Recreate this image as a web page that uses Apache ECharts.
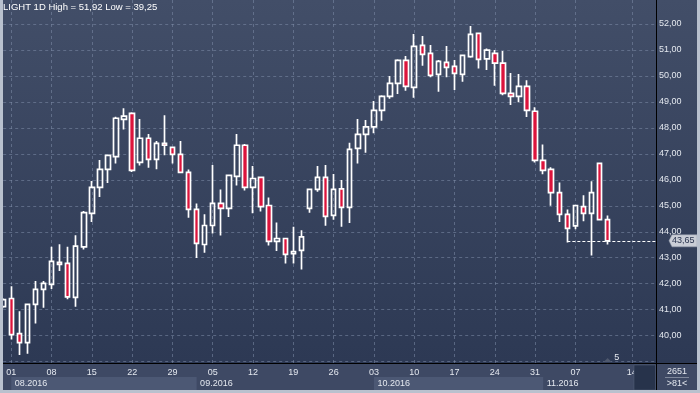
<!DOCTYPE html>
<html><head><meta charset="utf-8">
<script src="https://cdn.jsdelivr.net/npm/echarts@6/dist/echarts.min.js"></script>
<style>html,body{margin:0;padding:0;background:#2e3b56;}#c{width:700px;height:393px;}</style>
</head><body><div id="c"></div>
<script>
const dates = [
'2016-07-29',
'2016-08-01','2016-08-02','2016-08-03','2016-08-04','2016-08-05',
'2016-08-08','2016-08-09','2016-08-10','2016-08-11','2016-08-12',
'2016-08-15','2016-08-16','2016-08-17','2016-08-18','2016-08-19',
'2016-08-22','2016-08-23','2016-08-24','2016-08-25','2016-08-26',
'2016-08-29','2016-08-30','2016-08-31','2016-09-01','2016-09-02',
'2016-09-05','2016-09-06','2016-09-07','2016-09-08','2016-09-09',
'2016-09-12','2016-09-13','2016-09-14','2016-09-15','2016-09-16',
'2016-09-19','2016-09-20','2016-09-21','2016-09-22','2016-09-23',
'2016-09-26','2016-09-27','2016-09-28','2016-09-29','2016-09-30',
'2016-10-03','2016-10-04','2016-10-05','2016-10-06','2016-10-07',
'2016-10-10','2016-10-11','2016-10-12','2016-10-13','2016-10-14',
'2016-10-17','2016-10-18','2016-10-19','2016-10-20','2016-10-21',
'2016-10-24','2016-10-25','2016-10-26','2016-10-27','2016-10-28',
'2016-10-31','2016-11-01','2016-11-02','2016-11-03','2016-11-04',
'2016-11-07','2016-11-08','2016-11-09','2016-11-10','2016-11-11',
'2016-11-12','2016-11-13','2016-11-14','2016-11-15','2016-11-16','2016-11-17'
];
const opens = [41.12,41.43,40.08,39.73,41.20,41.78,41.97,42.82,42.78,41.47,
43.42,44.71,45.71,46.40,46.89,48.33,48.56,46.67,47.60,46.79,
47.40,47.25,46.98,46.29,44.86,43.51,44.24,45.09,44.90,46.13,
47.33,45.71,46.09,45.01,43.63,43.74,43.16,43.28,44.90,45.63,
46.09,44.63,45.65,44.94,47.21,47.75,48.04,48.67,49.21,49.71,
50.60,49.56,51.18,50.87,50.06,50.52,50.37,50.06,50.74,51.64,
50.66,50.87,50.49,49.33,49.21,49.60,48.64,46.75,46.40,45.51,
44.67,44.23,44.97,44.71,46.63,44.47];
const closes = [41.39,40.04,39.73,41.20,41.78,42.01,42.86,42.74,41.49,43.45,
44.74,45.71,46.40,46.94,48.37,48.45,46.36,47.60,46.79,47.40,
47.33,46.98,46.29,44.86,43.55,44.24,45.09,44.90,46.17,47.33,
45.71,46.05,44.97,43.63,43.74,43.13,43.24,43.80,45.63,46.09,
44.59,45.63,44.94,47.17,47.75,48.04,48.67,49.21,49.71,50.60,
49.60,51.14,50.83,50.02,50.56,50.33,50.10,50.79,51.60,50.64,
50.99,50.49,49.33,49.21,49.60,48.67,46.75,46.36,45.51,44.67,
44.13,45.01,44.71,45.51,44.47,43.65];
const lows = [41.05,39.85,39.25,39.30,40.47,41.07,41.80,42.49,41.40,41.11,
43.32,44.38,45.34,45.88,46.63,47.94,46.30,46.55,46.46,46.41,
46.95,46.63,46.25,44.54,42.99,43.19,43.93,43.86,44.57,45.78,
45.59,44.71,44.78,43.47,43.26,42.78,42.78,42.55,44.73,45.54,
44.23,44.46,44.19,44.34,46.63,47.04,47.79,48.27,49.12,49.30,
49.43,49.16,50.39,49.95,49.39,49.95,49.46,49.78,50.70,50.29,
50.23,49.62,49.26,48.88,48.99,48.42,46.67,46.21,45.00,44.38,
43.59,44.10,44.40,43.09,44.45,43.51];
const highs = [41.45,41.90,40.94,41.22,42.10,42.10,43.42,43.52,43.42,43.87,
44.80,45.95,46.76,46.96,48.43,48.76,48.60,48.34,47.76,47.49,
48.49,47.27,47.49,46.40,45.09,44.67,46.57,45.63,46.20,47.76,
47.38,46.53,46.12,45.32,44.36,43.76,44.19,44.06,45.67,46.53,
46.57,46.22,45.99,47.43,48.34,48.30,49.03,49.26,50.00,50.64,
50.77,51.61,51.54,51.19,50.61,51.15,50.61,50.82,51.92,51.66,
51.06,51.00,50.96,50.11,50.07,49.83,48.79,47.36,46.48,45.90,
44.86,45.03,45.41,45.94,46.65,44.63];
const weekTicks = ['2016-08-01','2016-08-08','2016-08-15','2016-08-22','2016-08-29',
'2016-09-05','2016-09-12','2016-09-19','2016-09-26',
'2016-10-03','2016-10-10','2016-10-17','2016-10-24','2016-10-31',
'2016-11-07','2016-11-14'];
const monthStarts = ['2016-08-01','2016-09-01','2016-10-03','2016-11-01'];
const monthEnds = ['2016-09-01','2016-10-03','2016-11-01','2016-11-17'];
const monthLabels = ['08.2016','09.2016','10.2016','11.2016'];
const monthShaded = [true,false,true,false];
const titleText = 'LIGHT 1D High = 51,92 Low = 39,25';
const lastPrice = 43.65;
const lastLineStart = '2016-11-04';
const eventDate = '2016-11-11';
const eventLabel = '5';
const footerTop = '2651';
const footerBottom = '>81<';

const FONT = "'Liberation Sans', Arial, sans-serif";
const grid = {left: 3.2, right: 44, top: 0, bottom: 30};
const yMax = 52.924, yMin = 38.946;
const isTick = (i, v) => weekTicks.indexOf(v) >= 0;
const gridLine = {show: true, lineStyle: {color: 'rgba(125,140,168,0.55)', type: [3, 3], width: 1}};

const chart = echarts.init(document.getElementById('c'));
const option = {
  animation: false,
  backgroundColor: new echarts.graphic.LinearGradient(0, 0, 0, 1, [
    {offset: 0, color: '#424e68'}, {offset: 0.92, color: '#2d3954'}, {offset: 1, color: '#2d3954'}]),
  title: {text: titleText, left: 3, top: 2, padding: 0,
    textStyle: {color: '#ffffff', fontSize: 9.5, fontWeight: 'normal', fontFamily: FONT}},
  grid: grid,
  xAxis: {
    type: 'category', data: dates, boundaryGap: false,
    axisLine: {show: true, lineStyle: {color: '#000000', width: 1}},
    axisTick: {show: false, interval: isTick},
    axisLabel: {interval: isTick, formatter: v => v.slice(8), color: '#e4e8ef', fontSize: 9, fontFamily: FONT, margin: 5},
    splitLine: Object.assign({interval: isTick}, gridLine)
  },
  yAxis: {
    type: 'value', position: 'right', min: yMin, max: yMax, splitNumber: 14, scale: true,
    axisLine: {show: true, lineStyle: {color: '#000000', width: 1}},
    axisTick: {show: false},
    axisLabel: {color: '#e4e8ef', fontSize: 9, fontFamily: FONT, margin: 3,
      formatter: v => (Math.abs(v - Math.round(v)) < 1e-6 && v >= 39.5) ? v.toFixed(2).replace('.', ',') : ''},
    splitLine: Object.assign({showMinLine: false, showMaxLine: false}, gridLine)
  },
  series: [{
    type: 'candlestick',
    data: opens.map((o, i) => [o, closes[i], lows[i], highs[i]]),
    barWidth: 5,
    clip: true,
    itemStyle: {color: 'rgba(0,0,0,0)', color0: '#dc143c', borderColor: '#ffffff', borderColor0: '#ffffff', borderColorDoji: '#ffffff', borderWidth: 1.7},
    markLine: {
      silent: true, symbol: 'none', animation: false,
      label: {show: false},
      lineStyle: {color: '#ffffff', type: [3, 2], width: 1},
      data: [[{coord: [lastLineStart, lastPrice]}, {coord: [dates[dates.length - 1], lastPrice]}]]
    }
  }]
};
chart.setOption(option);

const px = d => chart.convertToPixel({xAxisIndex: 0}, d);
const py = v => chart.convertToPixel({yAxisIndex: 0}, v);
const axisY = py(yMin);
const plotRight = px(dates[dates.length - 1]);
const g = [];
g.push({type: 'rect', z: -1, shape: {x: 0, y: axisY, width: 700, height: 393 - axisY}, style: {fill: '#3e4964'}, silent: true});
monthStarts.forEach((m, i) => {
  const x0 = px(m), x1 = px(monthEnds[i]);
  if (monthShaded[i]) {
    g.push({type: 'rect', z: -1, z2: 5, shape: {x: x0, y: axisY + 14, width: x1 - x0, height: 13}, style: {fill: '#4c5874'}, silent: true});
  }
  g.push({type: 'text', z: 5, x: x0 + 3.5, y: axisY + 20.5, style: {text: monthLabels[i], fill: '#e4e8ef', font: '9px ' + FONT, verticalAlign: 'middle'}, silent: true});
});
g.push({type: 'line', z: 6, shape: {x1: 0, y1: axisY + 0.5, x2: 700, y2: axisY + 0.5}, style: {stroke: '#000000', lineWidth: 1}, silent: true});
g.push({type: 'line', z: 6, shape: {x1: plotRight + 0.5, y1: 0, x2: plotRight + 0.5, y2: 393}, style: {stroke: '#000000', lineWidth: 1}, silent: true});
g.push({type: 'rect', z: 7, shape: {x: plotRight - 22, y: axisY + 2, width: 21.5, height: 25}, style: {fill: '#27334b', stroke: '#56627b', lineWidth: 0.5}, silent: true});
const ex = px(eventDate);
g.push({type: 'polygon', z: 7, shape: {points: [[ex - 4, axisY - 1], [ex + 4, axisY - 1], [ex, axisY - 5]]}, style: {fill: '#4e586d'}, silent: true});
g.push({type: 'text', z: 7, x: ex + 9, y: axisY - 5.5, style: {text: eventLabel, fill: '#e4e8ef', font: '9px ' + FONT, align: 'center', verticalAlign: 'middle'}, silent: true});
const ly = py(lastPrice);
const tx = plotRight + 13;
g.push({type: 'polygon', z: 8, shape: {points: [[tx, ly], [tx + 3, ly - 6], [tx + 28, ly - 6], [tx + 28, ly + 6], [tx + 3, ly + 6]]}, style: {fill: '#c9cdd6', stroke: '#9aa2b2', lineWidth: 0.5}, silent: true});
g.push({type: 'text', z: 9, x: tx + 3, y: ly, style: {text: lastPrice.toFixed(2).replace('.', ','), fill: '#2a3550', font: '9px ' + FONT, verticalAlign: 'middle'}, silent: true});
g.push({type: 'text', z: 7, x: 677, y: axisY + 8.5, style: {text: footerTop, fill: '#e4e8ef', font: '9px ' + FONT, align: 'center', verticalAlign: 'middle'}, silent: true});
g.push({type: 'line', z: 7, shape: {x1: 665, y1: axisY + 14.5, x2: 689, y2: axisY + 14.5}, style: {stroke: '#7f889b', lineWidth: 1}, silent: true});
g.push({type: 'text', z: 7, x: 677, y: axisY + 20.5, style: {text: footerBottom, fill: '#e4e8ef', font: '9px ' + FONT, align: 'center', verticalAlign: 'middle'}, silent: true});
g.push({type: 'rect', z: 10, shape: {x: 0, y: 0, width: 3, height: 393}, style: {fill: '#b9c1ce'}, silent: true});
g.push({type: 'rect', z: 10, shape: {x: 0, y: 390, width: 700, height: 3}, style: {fill: '#b9c1ce'}, silent: true});
g.push({type: 'rect', z: 10, shape: {x: 697, y: 0, width: 3, height: 393}, style: {fill: '#b9c1ce'}, silent: true});
chart.setOption({graphic: g});
</script></body></html>
